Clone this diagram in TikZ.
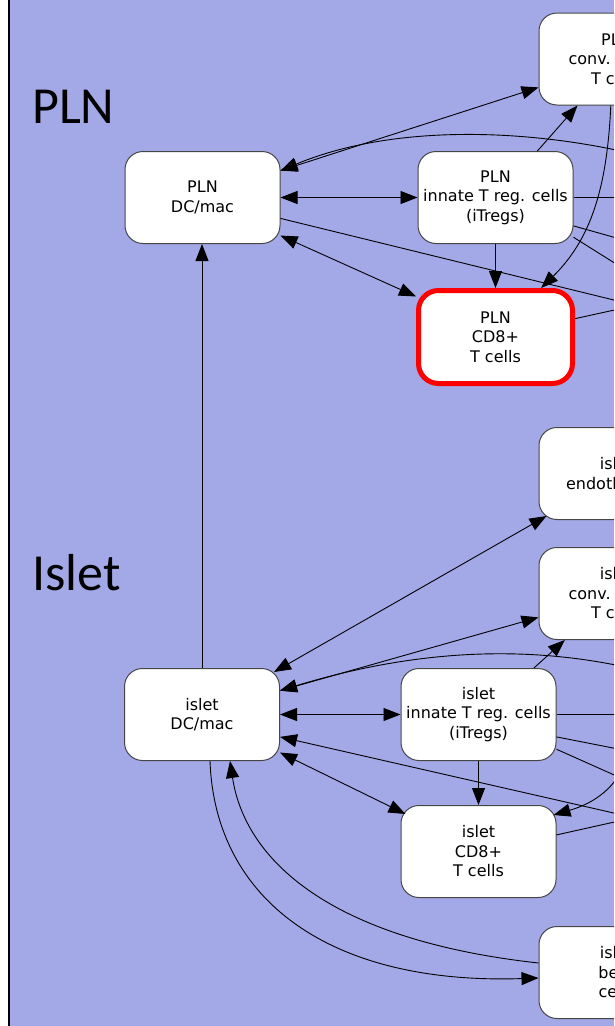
\documentclass[tikz,border=0pt]{standalone}
\usepackage{fontspec}
\setmainfont{DejaVu Sans}
\newfontfamily\biglab{Carlito}
\usetikzlibrary{arrows.meta,calc}
\definecolor{bgblue}{RGB}{163,168,230}
\definecolor{boxline}{RGB}{70,70,70}
\begin{document}
\begin{tikzpicture}[x=1pt,y=1pt,
  cell/.style={draw=boxline, fill=white, line width=1pt, rounded corners=18pt,
    minimum width=155pt, minimum height=92pt, inner sep=0pt, align=center,
    font=\fontsize{16}{19.5}\selectfont},
  cellred/.style={cell, draw=red, line width=5pt, rounded corners=20pt,
    minimum width=154pt, minimum height=93pt},
  biglabel/.style={anchor=base west, inner sep=0pt, font=\biglab\fontsize{52}{52}\selectfont},
  conn/.style={draw=black, line width=0.9pt},
  >={Triangle[length=17pt,width=13pt]}]
\useasboundingbox (0,0) rectangle (614,-1026);
\clip (0,0) rectangle (614,-1026);
\fill[white] (0,0) rectangle (10,-1026);
\fill[bgblue] (10,0) rectangle (614,-1026);
\draw[black, line width=2pt] (9,0) -- (9,-1026);

% region labels
\node[biglabel] (lpln) at (32,-123) {PLN};
\node[biglabel] (lislet) at (32,-590) {Islet};

% PLN nodes
\node[cell] (pdc) at (202.5,-197.5) {PLN\\DC/mac};
\node[cell] (pit) at (495.5,-197.5) {PLN\\innate T reg. cells\\(iTregs)};
\node[cellred] (pcd8) at (495.5,-337) {PLN\\CD8+\\T cells};
\node[cell] (pconv) at (616.5,-59) {PLN\\conv. CD4+\\T cells};
% islet nodes
\node[cell] (iend) at (616.5,-473.5) {islet\\endothelium};
\node[cell] (iconv) at (616.5,-593.5) {islet\\conv. CD4+\\T cells};
\node[cell] (idc) at (202,-714.5) {islet\\DC/mac};
\node[cell] (iit) at (478.5,-714.5) {islet\\innate T reg. cells\\(iTregs)};
\node[cell] (icd8) at (478.5,-851.5) {islet\\CD8+\\T cells};
\node[cell] (ibeta) at (616.5,-972.5) {islet\\beta\\cells};

% off-picture ends
\coordinate (o1) at (630,-153);
\coordinate (o2) at (640,-306.4);
\coordinate (o3) at (640,-197.5);
\coordinate (o4) at (640,-244.6);
\coordinate (o5) at (640,-279);
\coordinate (o6) at (640,-304.4);
\coordinate (q1) at (630,-668);
\coordinate (q2) at (640,-819);
\coordinate (q3) at (632,-735);
\coordinate (q4) at (640,-714.5);
\coordinate (q5) at (640,-753.3);
\coordinate (q6) at (640,-786.5);
\coordinate (q7) at (640,-816.3);

% PLN connectors
\draw[conn,<->] (pdc) -- (pit);
\draw[conn,->] (pit.48) -- (pconv.230);
\draw[conn,<->] (pdc.19) -- (pconv.200);
\draw[conn,->] (o1) .. controls (520,-128) and (390,-125) .. (pdc.19);
\draw[conn] (pdc.-15) -- (o2);
\draw[conn,<->] (pdc.-26) -- (pcd8.153);
\draw[conn,->] (pit) -- (pcd8);
\draw[conn,->] (pconv.263) .. controls (607,-190) and (590,-240) .. (pcd8.47);
\draw[conn] (pit) -- (o3);
\draw[conn] (pit.-20) -- (o4);
\draw[conn] (pit.-27) -- (o5);
\draw[conn] (pcd8.13) -- (o6);
\draw[conn,->] (idc.north) -- (idc.north |- pdc.south);

% islet connectors
\draw[conn,<->] ($(idc.north east)+(-6,-4)$) -- ($(iend.south west)+(8,4)$);
\draw[conn,<->] (idc.17) -- (iconv.197);
\draw[conn,->] (q1) .. controls (540,-648) and (430,-645) .. (idc.17);
\draw[conn,->] (iit.40) -- (iconv.222);
\draw[conn,<->] (idc) -- (iit);
\draw[conn,->] (q2) -- (idc.-16);
\draw[conn,<->] (idc.-26) -- ($(icd8.north west)+(5,-9)$);
\draw[conn,->] (iit) -- (icd8);
\draw[conn,->] (q3) .. controls (628,-775) and (605,-800) .. ($(icd8.north east)+(-3,-10)$);
\draw[conn] (iit) -- (q4);
\draw[conn] (iit.-16) -- (q5);
\draw[conn] (iit.-24) -- (q6);
\draw[conn] (icd8.12) -- (q7);
\draw[conn,->] ($(idc.south)+(8,0)$) .. controls (215,-900) and (330,-985) .. ($(ibeta.west)+(0,-5.5)$);
\draw[conn,->] ($(ibeta.west)+(0,9.5)$) .. controls (330,-940) and (245,-860) .. ($(idc.south)+(28,0)$);
\end{tikzpicture}
\end{document}
